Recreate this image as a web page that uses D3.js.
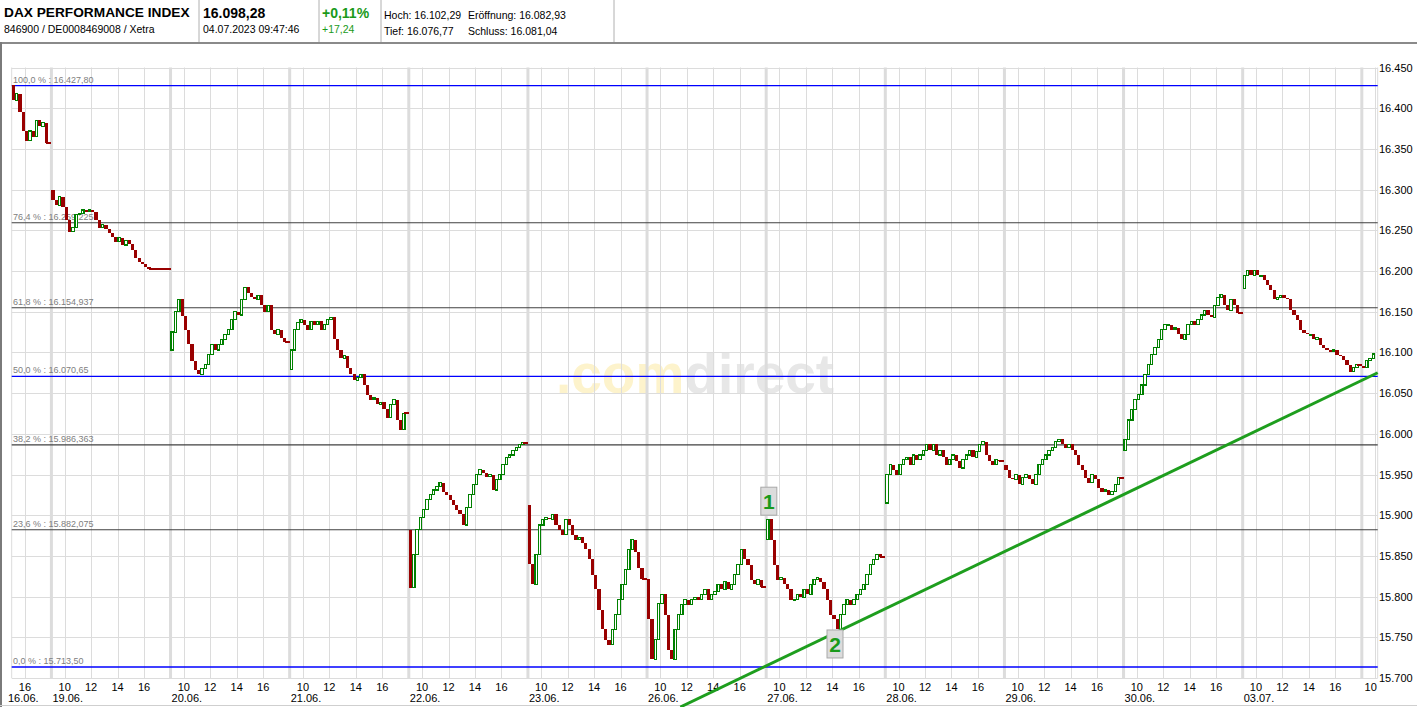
<!DOCTYPE html>
<html><head><meta charset="utf-8">
<script src="https://cdn.jsdelivr.net/npm/d3@7"></script>
<style>body{margin:0;background:#fff;} svg{display:block;font-family:"Liberation Sans",Arial,sans-serif;}</style>
</head><body><svg id="c" width="1417" height="707"></svg>
<script>
// ---------- DATA ----------
const days = ['16.06.','19.06.','20.06.','21.06.','22.06.','23.06.','26.06.','27.06.','28.06.','29.06.','30.06.','03.07.','04.07.'];
const yTicks = [15700,15750,15800,15850,15900,15950,16000,16050,16100,16150,16200,16250,16300,16350,16400,16450];
const hourTicks = [10,12,14,16];
const fibPct    = [100.0, 76.4, 61.8, 50.0, 38.2, 23.6, 0.0];
const fibValue  = [16427.80, 16259.225, 16154.937, 16070.65, 15986.363, 15882.075, 15713.50];
const fibDigits = [2,3,3,2,3,3,2];
// 15-minute prices per session: first entry = open, then each candle's close
const p1606 = [16428,16410,16418,16395,16372,16360,16372,16365,16385,16378,16382,16357];
const p1906 = [16300,16287,16281,16291,16279,16263,16248,16253,16269,16271,16275,16273,16275,16273,16263,16253,16257,16251,16247,16242,16236,16241,16232,16238,16233,16226,16216,16211,16208,16205,16202];
const p2006 = [16103,16125,16150,16165,16145,16128,16110,16089,16078,16073,16080,16085,16097,16110,16103,16110,16116,16122,16128,16140,16150,16146,16165,16180,16173,16168,16165,16170,16158,16150,16158,16128,16122,16128,16118,16113];
const p2106 = [16079,16103,16128,16137,16140,16134,16128,16138,16134,16138,16128,16134,16140,16143,16116,16103,16093,16096,16081,16073,16066,16069,16073,16060,16048,16042,16044,16036,16039,16030,16020,16036,16042,16017,16005,16025];
const p2206 = [15882,15811,15852,15882,15897,15907,15919,15925,15931,15935,15940,15928,15925,15919,15913,15907,15901,15888,15909,15925,15938,15950,15956,15952,15947,15950,15931,15944,15950,15962,15971,15974,15980,15983,15987,15989];
const p2306 = [15913,15840,15815,15852,15888,15895,15897,15895,15901,15888,15882,15876,15895,15888,15876,15870,15873,15866,15858,15846,15827,15809,15784,15760,15747,15741,15760,15778,15796,15815,15833,15858,15870,15855,15835,15822];
const p2606 = [15822,15772,15723,15747,15791,15803,15778,15735,15723,15760,15778,15790,15796,15790,15796,15799,15796,15803,15809,15796,15803,15806,15815,15809,15818,15809,15815,15827,15839,15858,15846,15839,15821,15815,15821,15812];
const p2706 = [15870,15895,15870,15839,15821,15823,15815,15809,15796,15796,15803,15799,15809,15803,15815,15821,15823,15818,15809,15796,15778,15772,15760,15778,15790,15796,15790,15796,15803,15809,15815,15827,15839,15846,15852,15849];
const p2806 = [15915,15950,15962,15956,15950,15962,15968,15971,15962,15974,15968,15974,15980,15987,15980,15987,15974,15980,15971,15962,15968,15974,15966,15958,15968,15974,15980,15971,15978,15987,15990,15974,15966,15962,15968,15966];
const p2906 = [15962,15956,15946,15944,15950,15938,15946,15950,15944,15938,15950,15962,15968,15974,15980,15983,15990,15993,15987,15983,15987,15980,15974,15962,15956,15946,15940,15950,15944,15934,15929,15931,15925,15929,15938,15946];
const p3006 = [15980,15993,16017,16030,16042,16048,16060,16073,16085,16097,16106,16116,16128,16134,16134,16128,16130,16122,16116,16122,16134,16138,16134,16140,16146,16152,16146,16143,16158,16167,16171,16158,16152,16165,16158,16149];
const p0307 = [16178,16195,16201,16195,16201,16195,16195,16189,16183,16177,16165,16167,16170,16167,16165,16152,16146,16140,16128,16124,16122,16122,16116,16118,16109,16106,16103,16101,16103,16097,16095,16091,16085,16076,16081,16085];
const p0407 = [16083,16081,16090,16092,16098];
const sessionStart = [15,9,9,9,9,9,9,9,9,9,9,9,9];
const trendPoints = [{day:'27.06.',hour:14.4,value:15757},{day:'04.07.',hour:10.2,value:16075}];
const markers = [{label:'1',day:'27.06.',hour:9.2,value:15900,side:'above'},{label:'2',day:'27.06.',hour:14.2,value:15759,side:'below'}];

// ---------- LAYOUT ----------
const svg = d3.select('#c');
const W = 1417, H = 707;
const plot = {l:11.7, r:1377.7, t:67.5, b:678};
const SLOT = 9; // hours per session slot (9:00-18:00)
const uOf = (day,hour) => days.indexOf(day)*SLOT + (hour-9);
const x = d3.scaleLinear().domain([uOf('16.06.',15), uOf('04.07.',10.2)]).range([plot.l, plot.r]);
const y = d3.scaleLinear().domain([15700,16450]).range([plot.b, plot.t]);
const de = d3.formatLocale({decimal:',', thousands:'.', grouping:[3], currency:['','€']});
const fmtInt = de.format(',d');

svg.append('rect').attr('width',W).attr('height',H).attr('fill','#fff');

// ---------- HEADER ----------
const hdr = svg.append('g');
const ht = (tx,ty,txt,size,weight,fill)=>hdr.append('text').attr('x',tx).attr('y',ty).attr('font-size',size).attr('font-weight',weight||'normal').attr('fill',fill||'#000').text(txt);
ht(4,17,'DAX PERFORMANCE INDEX',13.7,'bold');
ht(4,33,'846900 / DE0008469008 / Xetra',10.5);
ht(203,18,'16.098,28',14,'bold');
ht(203,33,'04.07.2023 09:47:46',10.5);
ht(322,18,'+0,11%',14,'bold','#1a9a1a');
ht(322,33,'+17,24',10.5,'normal','#1a9a1a');
ht(384,19,'Hoch: 16.102,29',10.5);
ht(468,19,'Eröffnung: 16.082,93',10.5);
ht(384,35,'Tief: 16.076,77',10.5);
ht(468,35,'Schluss: 16.081,04',10.5);
[199,319,381,614].forEach(sx=>hdr.append('line').attr('x1',sx).attr('x2',sx).attr('y1',0).attr('y2',42).attr('stroke','#b0b0b0'));
svg.append('rect').attr('x',0).attr('y',42).attr('width',W).attr('height',2).attr('fill','#8a8a8a');
svg.append('rect').attr('x',0).attr('y',42).attr('width',2).attr('height',H-42).attr('fill','#7a7a7a');
svg.append('line').attr('x1',0).attr('x2',W).attr('y1',705.5).attr('y2',705.5).attr('stroke','#cfcfcf');

// ---------- WATERMARK ----------
const wm = svg.append('text').attr('x',556).attr('y',393).attr('font-size',55).attr('font-weight','bold');
wm.append('tspan').attr('fill','#fdf3cc').text('.com');
wm.append('tspan').attr('fill','#e7e7e7').text('direct');

// ---------- GRID ----------
const grid = svg.append('g');
yTicks.forEach(v=>grid.append('line').attr('x1',plot.l).attr('x2',plot.r).attr('y1',Math.round(y(v))+0.5).attr('y2',Math.round(y(v))+0.5).attr('stroke','#dcdcdc'));
const [u0,u1] = x.domain();
const hourPos = [];
days.forEach((d,di)=>{
  hourTicks.forEach(h=>{
    const u = uOf(d,h);
    if (u>=u0 && u<=u1+0.01) hourPos.push({u,h});
  });
  const us = uOf(d,9);
  if (us>u0 && us<u1) grid.append('rect').attr('x',x(us)-1.5).attr('y',plot.t).attr('width',3).attr('height',plot.b-plot.t).attr('fill','#dcdcdc');
});
hourPos.forEach(p=>grid.append('line').attr('x1',Math.round(x(p.u))+0.5).attr('x2',Math.round(x(p.u))+0.5).attr('y1',plot.t).attr('y2',plot.b).attr('stroke','#dcdcdc'));
[plot.l, plot.r].forEach(px=>grid.append('line').attr('x1',px).attr('x2',px).attr('y1',plot.t).attr('y2',plot.b).attr('stroke','#dcdcdc'));

// y labels
yTicks.forEach(v=>svg.append('text').attr('x',1379).attr('y',y(v)+4).attr('font-size',11).attr('fill','#000').text(fmtInt(v)));
// x labels
hourPos.forEach(p=>{
  const px = Math.min(x(p.u), plot.r-7);
  svg.append('text').attr('x',px).attr('y',691).attr('text-anchor','middle').attr('font-size',11).attr('fill','#000').text(p.h);
});
days.forEach((d,di)=>{
  const px = Math.max(x(uOf(d,9))+1, 8);
  if (px+32 < plot.r) svg.append('text').attr('x',px).attr('y',702).attr('font-size',11).attr('fill','#000').text(d);
});

// ---------- FIBONACCI ----------
fibPct.forEach((p,i)=>{
  const blue = (p===100||p===50||p===0);
  const yy = y(fibValue[i]);
  svg.append('line').attr('x1',plot.l).attr('x2',plot.r).attr('y1',yy).attr('y2',yy).attr('stroke',blue?'#0000ff':'#404040').attr('stroke-width',blue?1.3:1.1);
  svg.append('text').attr('x',13).attr('y',yy-3).attr('font-size',9).attr('fill','#808080')
    .text(de.format('.1f')(p)+' % : '+de.format(',.'+fibDigits[i]+'f')(fibValue[i]));
});

// ---------- CANDLES ----------
const sessions = [p1606,p1906,p2006,p2106,p2206,p2306,p2606,p2706,p2806,p2906,p3006,p0307,p0407];
const cg = svg.append('g').attr('shape-rendering','crispEdges');
sessions.forEach((pr,di)=>{
  const start = days[di];
  let lastCx = null;
  for (let k=0;k<pr.length-1;k++){
    const o=pr[k], c=pr[k+1];
    const ua = uOf(start, sessionStart[di]) + k*0.25;
    const cx = (x(ua)+x(ua+0.25))/2;
    const yt = y(Math.max(o,c)), yb = y(Math.min(o,c));
    const hgt = Math.max(1, yb-yt);
    if (c>=o){
      cg.append('rect').attr('x',cx-1.2).attr('y',yt).attr('width',2.4).attr('height',hgt).attr('fill','#fff').attr('stroke','#008000').attr('stroke-width',1.1);
    } else {
      cg.append('rect').attr('x',cx-1.6).attr('y',yt).attr('width',3.2).attr('height',hgt).attr('fill','#990000');
    }
    lastCx = cx;
  }
  if (di < days.length-1){
    const cl = pr[pr.length-1];
    cg.append('line').attr('x1',lastCx).attr('x2',x(uOf(start,18))).attr('y1',y(cl)).attr('y2',y(cl)).attr('stroke','#990000').attr('stroke-width',2);
  }
});

// ---------- TREND LINE ----------
const tA = {u:uOf(trendPoints[0].day,trendPoints[0].hour), v:trendPoints[0].value};
const tB = {u:uOf(trendPoints[1].day,trendPoints[1].hour), v:trendPoints[1].value};
const slope = (y(tB.v)-y(tA.v))/(x(tB.u)-x(tA.u));
const xA = x(tA.u), yA = y(tA.v);
const xLeft = xA + (H - yA)/slope;
svg.append('line').attr('x1',xLeft).attr('y1',H).attr('x2',x(tB.u)).attr('y2',y(tB.v)).attr('stroke','#1e9e1e').attr('stroke-width',3);

// ---------- MARKERS ----------
markers.forEach(m=>{
  const mx = x(uOf(m.day,m.hour));
  const my = y(m.value);
  const by = m.side==='above' ? my-28 : my;
  svg.append('rect').attr('x',mx-8).attr('y',by).attr('width',16).attr('height',28).attr('fill','#dcdcdc').attr('stroke','#a8a8a8');
  svg.append('text').attr('x',mx).attr('y',by+22).attr('text-anchor','middle').attr('font-size',21).attr('font-weight','bold').attr('fill','#1a9a1a').text(m.label);
});
</script></body></html>
